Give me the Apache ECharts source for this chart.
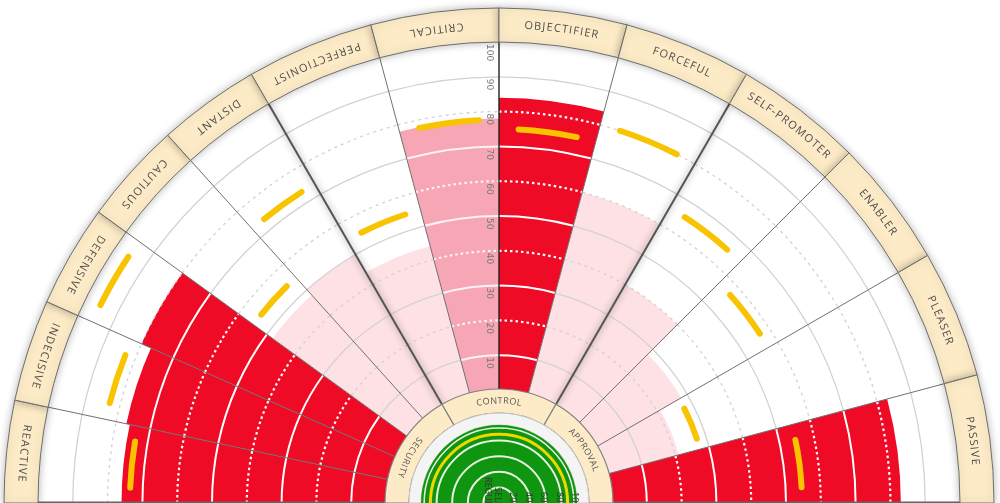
<!DOCTYPE html>
<html><head><meta charset="utf-8">
<script src="https://cdn.jsdelivr.net/npm/echarts@6/dist/echarts.min.js"></script>
<style>html,body{margin:0;padding:0;background:#fff;overflow:hidden}#c{width:1000px;height:503px}</style>
</head><body><div id="c"></div>
<script>
// ---------------- data ----------------
const styles = ['REACTIVE','INDECISIVE','DEFENSIVE','CAUTIOUS','DISTANT','PERFECTIONIST','CRITICAL','OBJECTIFIER','FORCEFUL','SELF-PROMOTER','ENABLER','PLEASER','PASSIVE'];
// angular extent of each style on the angle axis (degrees clockwise from top)
const sectorEdges = [-90,-78,-66,-54,-42,-30,-15,0,15,30,45,60,75,90];
const scores = [76,77,80,48,50,44,78,84,60,40,28,21,83];
const levels = ['high','high','high','low','low','low','mid','high','low','low','low','low','high'];
const norms  = [73.6,83,95.4,54.7,73.4,54.7,77.7,75,80,65.5,56.9,27.3,54.6];
const radiusTicks = [10,20,30,40,50,60,70,80,90,100];
const groups = ['SECURITY','CONTROL','APPROVAL'];
const groupStart = [-90,-30,30];
const groupEnd = [-30,30,90];
const groupLabelAngle = [-63,0,58];
const gaugeTicks = [20,40,60,80,100];
const gaugeValue = 88;
const gaugeTitles = ['REGULATION','SELF'];

// ---------------- style ----------------
const COLORS = {high:'#ef0a25', mid:'#f7a6b5', low:'#fde1e5'};
const CREAM = '#fcebc6';
const measureCtx = document.createElement('canvas').getContext('2d');

function mk(params, api) {
  const cs = params.coordSys;
  const cx = cs.cx, cy = cs.cy;
  const R = v => { const p = api.coord([v, 0]); return Math.hypot(p[0]-cx, p[1]-cy); };
  const A = a => { const p = api.coord([50, a]); let t = Math.atan2(p[1]-cy, p[0]-cx); if (t > 0.5) t -= 2*Math.PI; return t; };
  const P = (r, a) => { const t = A(a); return [cx + r*Math.cos(t), cy + r*Math.sin(t)]; };
  return {cx, cy, R, A, P};
}

function arcText(g, text, midAng, r, font, color, spacing) {
  const flip = midAng < 0;
  measureCtx.font = font;
  const chars = [...text];
  const widths = chars.map(ch => measureCtx.measureText(ch).width);
  const total = widths.reduce((a,b)=>a+b,0) + spacing*(chars.length-1);
  const toDeg = w => w / r * 180 / Math.PI;
  let cur = flip ? midAng + toDeg(total)/2 : midAng - toDeg(total)/2;
  const out = [];
  chars.forEach((ch,k) => {
    const cw = toDeg(widths[k]);
    const c = flip ? cur - cw/2 : cur + cw/2;
    const p = g.P(r, c);
    const rot = -((flip ? c + 180 : c) * Math.PI / 180);
    out.push({type:'text', x:p[0], y:p[1], rotation:rot,
      style:{text:ch, font:font, fill:color, align:'center', verticalAlign:'middle'}});
    const step = toDeg(widths[k] + spacing);
    cur = flip ? cur - step : cur + step;
  });
  return out;
}

function renderBars(params, api) {
  const g = mk(params, api);
  const i = api.value(2);
  const a1 = sectorEdges[i], a2 = sectorEdges[i+1];
  const s = scores[i], lvl = levels[i];
  const t1 = g.A(a1), t2 = g.A(a2);
  const ch = [];
  ch.push({type:'sector', shape:{cx:g.cx, cy:g.cy, r0:g.R(0), r:g.R(s), startAngle:t1, endAngle:t2, clockwise:true},
    style:{fill:COLORS[lvl]}});
  radiusTicks.forEach(t => {
    if (t >= 100) return;
    const solid = (t % 20) === 10;
    const inBar = t < s && lvl !== 'low';
    ch.push({type:'arc', shape:{cx:g.cx, cy:g.cy, r:g.R(t), startAngle:t1, endAngle:t2, clockwise:true},
      style:{fill:null, stroke: inBar ? (lvl==='high' ? '#ffffff' : 'rgba(255,255,255,0.85)') : '#d2d2d2',
        lineWidth: inBar ? (solid ? 2 : 2.2) : 1.3, lineDash: solid ? null : (inBar ? [2.5,3] : [3,4])}});
  });
  const m = (a1+a2)/2, half = (a2-a1)*0.3;
  ch.push({type:'arc', shape:{cx:g.cx, cy:g.cy, r:g.R(norms[i]), startAngle:g.A(m-half), endAngle:g.A(m+half), clockwise:true},
    style:{fill:null, stroke:'#f8c400', lineWidth:6, lineCap:'round'}});
  return {type:'group', children:ch};
}

function renderDividers(params, api) {
  const g = mk(params, api);
  const a = api.value(1);
  const p1 = g.P(g.R(0), a), p2 = g.P(g.R(100), a);
  let style = {stroke:'#707070', lineWidth:1};
  if (Math.abs(a) === 30) style = {stroke:'#555', lineWidth:2, shadowBlur:7, shadowColor:'rgba(0,0,0,0.45)'};
  if (a === 0) style = {stroke:'#222', lineWidth:1.4};
  if (Math.abs(a) === 90) style = {stroke:'#666', lineWidth:3};
  return {type:'line', shape:{x1:p1[0], y1:p1[1], x2:p2[0], y2:p2[1]}, style:style};
}

function renderBand(params, api) {
  const g = mk(params, api);
  const i = api.value(2);
  const a1 = sectorEdges[i], a2 = sectorEdges[i+1];
  const r0 = g.R(100), r1 = r0 + 34;
  const ch = [{type:'sector', shape:{cx:g.cx, cy:g.cy, r0:r0, r:r1, startAngle:g.A(a1), endAngle:g.A(a2), clockwise:true},
    style:{fill:CREAM, stroke:'#6e6e6e', lineWidth:1, shadowBlur:8, shadowColor:'rgba(0,0,0,0.28)'}}];
  const m = (a1+a2)/2;
  return {type:'group', children: ch.concat(arcText(g, styles[i], m, (r0+r1)/2, '11px "Open Sans"', '#4d4d4d', 1.2))};
}

function renderGroups(params, api) {
  const g = mk(params, api);
  const i = api.value(2);
  const r1 = g.R(0) + 1, r0 = r1 - 24;
  const ch = [{type:'sector', shape:{cx:g.cx, cy:g.cy, r0:r0, r:r1, startAngle:g.A(groupStart[i]), endAngle:g.A(groupEnd[i]), clockwise:true},
    style:{fill:CREAM, stroke:'#808080', lineWidth:1.2}}];
  return {type:'group', children: ch.concat(arcText(g, groups[i], groupLabelAngle[i], (r0+r1)/2, '9px "Open Sans"', '#555', 0.6))};
}

function renderGauge(params, api) {
  const g = mk(params, api);
  const ch = [];
  const rEdge = g.R(100);
  ch.push({type:'sector', shape:{cx:g.cx, cy:g.cy, r0:rEdge, r:rEdge+12, startAngle:-Math.PI, endAngle:0, clockwise:true},
    style:{fill:'#f4f4f4', stroke:'#c8c8c8', lineWidth:1}});
  ch.push({type:'circle', shape:{cx:g.cx, cy:g.cy, r:rEdge}, style:{fill:'#109510'}});
  gaugeTicks.forEach(t => {
    if (t >= 100) return;
    ch.push({type:'circle', shape:{cx:g.cx, cy:g.cy, r:g.R(t)}, style:{fill:null, stroke:'#e6f3e0', lineWidth:2}});
  });
  ch.push({type:'circle', shape:{cx:g.cx, cy:g.cy, r:g.R(96)}, style:{fill:null, stroke:'#e6f3e0', lineWidth:1.5}});
  ch.push({type:'circle', shape:{cx:g.cx, cy:g.cy, r:g.R(gaugeValue)}, style:{fill:null, stroke:'#f2d600', lineWidth:3}});
  gaugeTicks.forEach(t => {
    const p = g.P(g.R(t), 90);
    ch.push({type:'text', x:p[0]-2, y:g.cy-11, rotation:-Math.PI/2,
      style:{text:String(t), font:'9px "Open Sans"', fill:'#333', align:'left', verticalAlign:'middle'}});
  });
  gaugeTitles.forEach((t,k) => {
    ch.push({type:'text', x:g.cx - 11 + k*10, y:g.cy - 26 + k*10, rotation:-Math.PI/2,
      style:{text:t, font:'9px "Open Sans"', fill:'#333', align:'left', verticalAlign:'middle'}});
  });
  return {type:'group', children:ch};
}

function renderTicks(params, api) {
  const g = mk(params, api);
  const v = api.value(0);
  const p = g.P(g.R(v), 0);
  return {type:'text', x:p[0]-10, y:p[1]+2, rotation:-Math.PI/2,
    style:{text:String(v), font:'9px "DejaVu Sans"', fill:'#777', align:'left', verticalAlign:'middle'}};
}

const chart = echarts.init(document.getElementById('c'));
const mid = i => (sectorEdges[i]+sectorEdges[i+1])/2;
chart.setOption({
  animation:false,
  polar:[{center:[499,503], radius:[113,461]}, {center:[499,503], radius:[0,78]}],
  angleAxis:[
    {polarIndex:0, type:'value', min:-180, max:180, startAngle:270, clockwise:true, show:false},
    {polarIndex:1, type:'value', min:-180, max:180, startAngle:270, clockwise:true, show:false}],
  radiusAxis:[
    {polarIndex:0, type:'value', min:0, max:100, show:false},
    {polarIndex:1, type:'value', min:0, max:100, show:false}],
  series:[
    {type:'custom', coordinateSystem:'polar', polarIndex:0, z:1, renderItem:renderBars,
      data:styles.map((s,i)=>[scores[i], mid(i), i])},
    {type:'custom', coordinateSystem:'polar', polarIndex:0, z:3, renderItem:renderDividers,
      data:sectorEdges.map((a,k)=>[100, a, k])},
    {type:'custom', coordinateSystem:'polar', polarIndex:0, z:4, renderItem:renderTicks,
      data:radiusTicks.map(v=>[v, 0])},
    {type:'custom', coordinateSystem:'polar', polarIndex:0, z:5, renderItem:renderBand,
      data:styles.map((s,i)=>[100, mid(i), i])},
    {type:'custom', coordinateSystem:'polar', polarIndex:0, z:5, renderItem:renderGroups,
      data:groups.map((s,i)=>[0, groupLabelAngle[i], i])},
    {type:'custom', coordinateSystem:'polar', polarIndex:1, z:6, renderItem:renderGauge,
      data:[[gaugeValue, 0]]}
  ]
});
</script></body></html>
